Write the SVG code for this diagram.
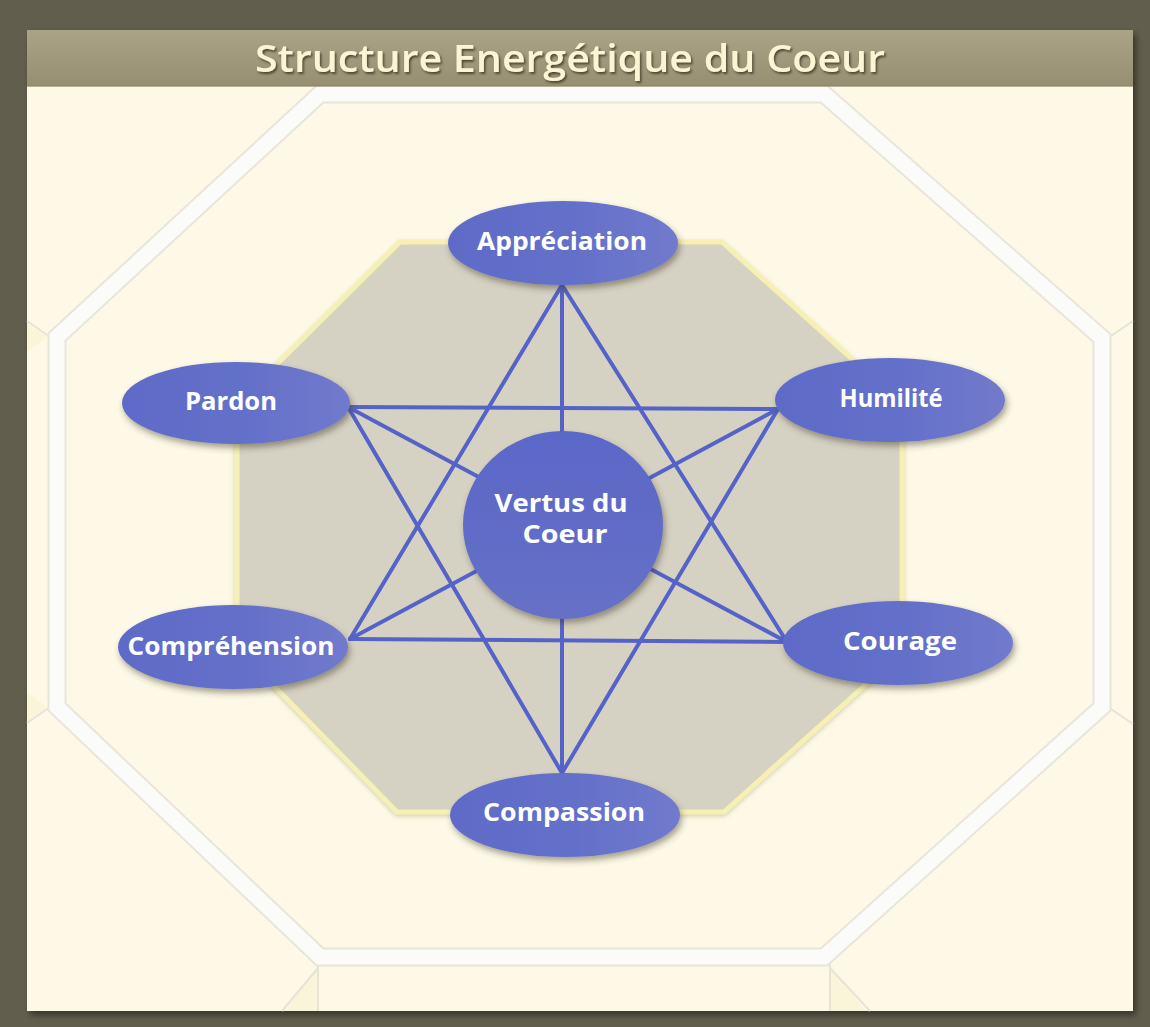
<svg xmlns="http://www.w3.org/2000/svg" width="1150" height="1027" viewBox="0 0 1150 1027">
  <defs>
    <linearGradient id="barGrad" x1="0" y1="0" x2="0" y2="1">
      <stop offset="0" stop-color="#aba386"/>
      <stop offset="1" stop-color="#978f71"/>
    </linearGradient>
    <linearGradient id="nodeGrad" x1="0" y1="0" x2="1" y2="0">
      <stop offset="0" stop-color="#5e6bc8"/>
      <stop offset="0.55" stop-color="#6470c9"/>
      <stop offset="1" stop-color="#717acc"/>
    </linearGradient>
    <linearGradient id="hubGrad" x1="0" y1="0" x2="0" y2="1">
      <stop offset="0" stop-color="#5a68c8"/>
      <stop offset="1" stop-color="#6670c6"/>
    </linearGradient>
    <filter id="panelShadow" x="-5%" y="-5%" width="110%" height="110%">
      <feDropShadow dx="3" dy="4" stdDeviation="3" flood-color="#000" flood-opacity="0.45"/>
    </filter>
    <filter id="nodeShadow" x="-20%" y="-20%" width="140%" height="150%">
      <feDropShadow dx="2" dy="4" stdDeviation="3" flood-color="#3a3520" flood-opacity="0.45"/>
    </filter>
    <filter id="octShadow" x="-5%" y="-5%" width="110%" height="110%">
      <feDropShadow dx="0" dy="2" stdDeviation="2" flood-color="#8a8460" flood-opacity="0.35"/>
    </filter>
    <filter id="titleShadow" x="-5%" y="-30%" width="110%" height="160%">
      <feDropShadow dx="1.5" dy="2" stdDeviation="1" flood-color="#3d3828" flood-opacity="0.85"/>
    </filter>
    <style>
      .label { font-family: "Open Sans", "DejaVu Sans", sans-serif; font-weight: 700; font-size: 25px; fill: #ffffff; text-anchor: middle; }
      .title { font-family: "Open Sans", "DejaVu Sans", sans-serif; font-weight: 600; font-size: 37px; fill: #fdf4d4; text-anchor: middle; }
      .node { fill: url(#nodeGrad); filter: url(#nodeShadow); }
      .conn { stroke: #5563c8; stroke-width: 4; fill: none; stroke-linecap: round; }
      .tileEdge { stroke: #e8e5da; stroke-width: 19; fill: none; stroke-linejoin: miter; }
      .tileBand { stroke: #fbfbf9; stroke-width: 15; fill: none; stroke-linejoin: miter; }
      .nb { stroke: #e6e3d7; stroke-width: 2; fill: none; }
    </style>
  </defs>

  <!-- frame -->
  <rect x="0" y="0" width="1150" height="1027" fill="#625e4d"/>
  <rect x="27" y="30" width="1106" height="981" fill="#fdf9e6" filter="url(#panelShadow)"/>

  <!-- background tiling -->
  <g id="tiling">
    <polygon points="27,322 47,337 27,352" fill="#faf5d8"/>
    <polygon points="27,722 47,707 27,692" fill="#faf5d8"/>
    <polygon points="318,1011 318,968 284,1011" fill="#faf5d8"/>
    <polygon points="830,1011 830,968 866,1011" fill="#faf5d8"/>
    <path class="nb" d="M50,337 L27,321 M50,707 L27,723 M1108,338 L1133,321 M1108,707 L1133,724 M318,963 L318,1011 M318,968 L282,1011 M830,963 L830,1011 M830,968 L870,1011"/>
    <polygon class="tileEdge" points="320,94 824,94 1102,338 1102,707 824,957 320,957 57,707 57,337"/>
    <polygon class="tileBand" points="320,94 824,94 1102,338 1102,707 824,957 320,957 57,707 57,337"/>
  </g>

  <!-- title bar -->
  <g id="title">
    <rect x="27" y="30" width="1106" height="56" fill="url(#barGrad)"/>
    <rect x="27" y="85" width="1106" height="2" fill="#8a8366" opacity="0.6"/>
    <text class="title" x="570" y="72" textLength="630" lengthAdjust="spacingAndGlyphs" filter="url(#titleShadow)">Structure Energétique du Coeur</text>
  </g>

  <!-- inner octagon -->
  <polygon id="inner-octagon" points="400,242 722,242 902,404 902,652 724,812 397,812 237,648 237,404" fill="#d6d2c3" stroke="#f6f0b4" stroke-width="5" filter="url(#octShadow)"/>

  <!-- connectors -->
  <g id="connectors">
    <line class="conn" x1="348" y1="407" x2="778" y2="409"/>
    <line class="conn" x1="350" y1="639" x2="787" y2="642"/>
    <line class="conn" x1="562" y1="285" x2="350" y2="639"/>
    <line class="conn" x1="562" y1="285" x2="787" y2="642"/>
    <line class="conn" x1="562" y1="285" x2="562" y2="773"/>
    <line class="conn" x1="562" y1="773" x2="348" y2="407"/>
    <line class="conn" x1="562" y1="773" x2="778" y2="409"/>
    <line class="conn" x1="348" y1="407" x2="787" y2="642"/>
    <line class="conn" x1="778" y1="409" x2="350" y2="639"/>
  </g>

  <!-- nodes -->
  <g id="node-appreciation">
    <ellipse class="node" cx="563" cy="243" rx="115" ry="42"/>
    <text class="label" x="562" y="250" textLength="170" lengthAdjust="spacingAndGlyphs">Appréciation</text>
  </g>
  <g id="node-pardon">
    <ellipse class="node" cx="236" cy="403" rx="114" ry="41"/>
    <text class="label" x="231" y="410" textLength="92" lengthAdjust="spacingAndGlyphs">Pardon</text>
  </g>
  <g id="node-humilite">
    <ellipse class="node" cx="890" cy="400" rx="115" ry="42"/>
    <text class="label" x="891" y="407" textLength="103" lengthAdjust="spacingAndGlyphs">Humilité</text>
  </g>
  <g id="node-comprehension">
    <ellipse class="node" cx="233" cy="647" rx="115" ry="42"/>
    <text class="label" x="231" y="655" textLength="207" lengthAdjust="spacingAndGlyphs">Compréhension</text>
  </g>
  <g id="node-courage">
    <ellipse class="node" cx="898" cy="643" rx="115" ry="42"/>
    <text class="label" x="900" y="650" textLength="114" lengthAdjust="spacingAndGlyphs">Courage</text>
  </g>
  <g id="node-compassion">
    <ellipse class="node" cx="565" cy="815" rx="115" ry="42"/>
    <text class="label" x="564" y="821" textLength="162" lengthAdjust="spacingAndGlyphs">Compassion</text>
  </g>
  <g id="node-vertus">
    <ellipse cx="563" cy="525" rx="100" ry="94" fill="url(#hubGrad)" filter="url(#nodeShadow)"/>
    <text class="label" x="561" y="512" textLength="133" lengthAdjust="spacingAndGlyphs">Vertus du</text>
    <text class="label" x="565" y="543" textLength="85" lengthAdjust="spacingAndGlyphs">Coeur</text>
  </g>
</svg>
